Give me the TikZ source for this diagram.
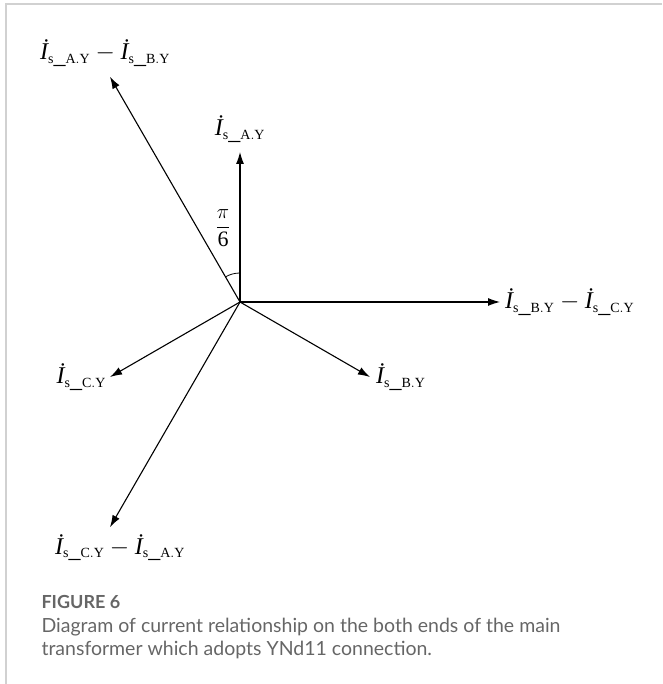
\documentclass[tikz,border=0pt]{standalone}
\usepackage{fontspec}
\setmainfont{Liberation Serif}
\newfontfamily\capfont{Lato}
\usetikzlibrary{arrows.meta}
\DeclareMathSizes{24}{24}{14}{10}
\DeclareMathSizes{22}{22}{14}{10}
\newcommand{\cur}[1]{\textit{İ}_{\mathrm{s\_#1}}}

\begin{document}
\begin{tikzpicture}[x=1pt,y=1pt,
    vec/.style={-{Latex[length=12pt,width=8pt]},line width=1.1pt},
    lbl/.style={inner sep=1pt,font=\fontsize{24}{28}\selectfont},
    captext/.style={anchor=base west,text=black!60,font=\capfont\fontsize{19.5}{22}\selectfont}]
			\useasboundingbox (0,0) rectangle (662,684);
			\draw[black!18,line width=1.6pt] (662,680) -- (6,680) -- (6,0);
			\coordinate (O) at (240,382);
			\coordinate (A) at (240,532);
			\coordinate (B) at (369.9,307);
			\coordinate (C) at (110.1,307);
			\coordinate (AB) at (110,607.2);
			\coordinate (BC) at (500,382);
			\coordinate (CA) at (110,156.8);
			\draw[vec] (O) -- (A);
			\draw[vec] (O) -- (B);
			\draw[vec] (O) -- (C);
			\draw[vec] (O) -- (AB);
			\draw[vec] (O) -- (BC);
			\draw[vec] (O) -- (CA);
			\draw[line width=0.8pt] (O) ++(90:29) arc[start angle=90, end angle=120, radius=29];
			\node[lbl, above=9pt, xshift=-5pt] (lAB) at (AB) {$\cur{A.Y}-\cur{B.Y}$};
			\node[lbl, above=8pt] (lA) at (A) {$\cur{A.Y}$};
			\node[lbl, right=4pt] (lBC) at (BC) {$\cur{B.Y}-\cur{C.Y}$};
			\node[lbl, right=5pt] (lB) at (B) {$\cur{B.Y}$};
			\node[lbl, left=3pt] (lC) at (C) {$\cur{C.Y}$};
			\node[lbl, below=6pt, xshift=10pt] (lCA) at (CA) {$\cur{C.Y}-\cur{A.Y}$};
			\node[lbl, font=\fontsize{22}{26}\selectfont] (ang) at (223,456) {$\displaystyle\frac{\pi}{\mathrm{6}}$};
			\node[captext, font=\capfont\bfseries\fontsize{18}{22}\selectfont] (fig) at (38,75) {FIGURE 6};
			\node[captext] (cap1) at (38,51) {Diagram of current relationship on the both ends of the main};
			\node[captext] (cap2) at (38,28) {transformer which adopts YNd11 connection.};
		\end{tikzpicture}
\end{document}
